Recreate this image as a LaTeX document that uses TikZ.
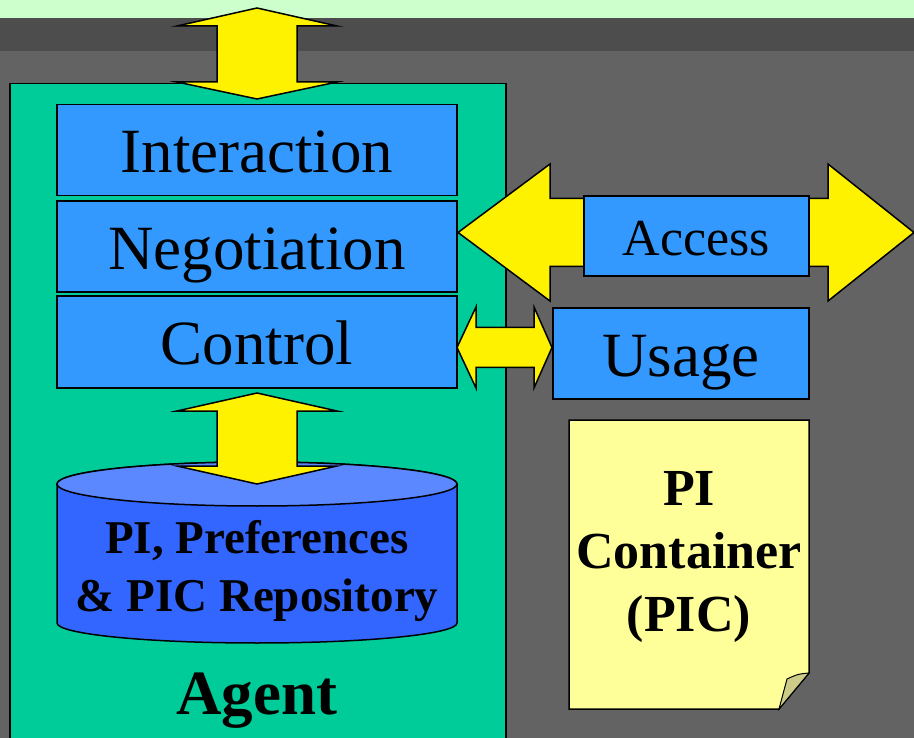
\documentclass[tikz,border=0pt]{standalone}
\usepackage{fontspec}
\setmainfont{Liberation Serif}
\definecolor{bgtop}{HTML}{CCFFCC}
\definecolor{bgband}{HTML}{4D4D4D}
\definecolor{bgmain}{HTML}{636363}
\definecolor{agentgreen}{HTML}{00CC99}
\definecolor{layerblue}{HTML}{3399FF}
\definecolor{cylbody}{HTML}{3366FF}
\definecolor{cyltop}{HTML}{5C88FF}
\definecolor{notefill}{HTML}{FFFF99}
\definecolor{notefold}{HTML}{CCCC88}
\newcommand\biarrowV[7]{% cx, tip, base, base, tip, head half, shaft half
  \draw[barrow] (#1,#2) -- (#1+#6,#3) -- (#1+#7,#3) -- (#1+#7,#4) -- (#1+#6,#4)
    -- (#1,#5) -- (#1-#6,#4) -- (#1-#7,#4) -- (#1-#7,#3) -- (#1-#6,#3) -- cycle;}
\newcommand\biarrowH[7]{% cy, tip, base, base, tip, head half, shaft half
  \draw[barrow] (#2,#1) -- (#3,#1-#6) -- (#3,#1-#7) -- (#4,#1-#7) -- (#4,#1-#6)
    -- (#5,#1) -- (#4,#1+#6) -- (#4,#1+#7) -- (#3,#1+#7) -- (#3,#1+#6) -- cycle;}
\tikzset{
  outline/.style={draw=black, line width=1.5pt},
  barrow/.style={outline, fill=yellow, line join=miter},
  layer/.style={outline, fill=layerblue, inner sep=0pt, text depth=0pt,
    font=\fontsize{63}{70}\selectfont},
  boldlabel/.style={align=center, inner sep=0pt, font=\bfseries}
}
\begin{document}
\begin{tikzpicture}[x=1pt, y=-1pt]
\useasboundingbox (0,0) rectangle (914,738);
\clip (0,0) rectangle (914,738);
% backdrop
\fill[bgmain] (0,0) rectangle (914,738);
\fill[bgband] (0,18) rectangle (914,51);
\fill[bgtop] (0,0) rectangle (914,18);

% agent container
\node[outline, fill=agentgreen, anchor=north west, minimum width=496pt,
  minimum height=700pt, inner sep=0pt] (agent) at (9,83) {};
\node[boldlabel, anchor=base, font=\bfseries\fontsize{63}{70}\selectfont]
  (agentlbl) at (257,714) {Agent};

% external link
\biarrowV{257}{8}{26}{82}{99}{80}{40}

% protocol layers
\node[layer, minimum width=400pt, minimum height=91pt, text height=46pt] (inter) at (257,150) {Interaction};
\node[layer, minimum width=400pt, minimum height=91pt, text height=46pt] (nego) at (257,246.5) {Negotiation};
\node[layer, minimum width=400pt, minimum height=92pt, text height=46pt] (ctrl) at (257,342) {Control};

% repository cylinder
\path[outline, fill=cylbody] (57,484) -- (57,623)
  arc[start angle=180, end angle=360, x radius=200pt, y radius=20pt]
  -- (457,484)
  arc[start angle=0, end angle=180, x radius=200pt, y radius=22pt] -- cycle;
\path[outline, fill=cyltop] (257,484) ellipse[x radius=200pt, y radius=22pt];
\node[boldlabel, font=\bfseries\fontsize{47}{58}\selectfont] (repo) at (257,571)
  {PI, Preferences\\\& PIC Repository};

% control <-> repository
\biarrowV{257}{393}{411}{466}{484}{80}{40}

% negotiation <-> access
\biarrowH{232.5}{458}{550}{828}{914}{68.5}{34}
\node[layer, minimum width=225pt, minimum height=80pt, text height=40pt,
  font=\fontsize{52}{60}\selectfont] (access) at (696.5,236) {Access};

% control <-> usage
\biarrowH{347.5}{457}{476}{534}{552}{40.5}{20}
\node[layer, minimum width=256pt, minimum height=91pt, text height=47pt] (usage) at (681,353.5) {Usage};

% PI container note with curled corner
\path[outline, fill=notefill] (569,420) -- (809,420) -- (809,673) -- (779,709) -- (569,709) -- cycle;
\path[draw=black, line width=1pt, fill=notefold] (809,673) .. controls (798,674) .. (787,679) -- (779,709) -- cycle;
\node[boldlabel, font=\bfseries\fontsize{52}{63}\selectfont] (pic) at (689,557)
  {PI\\Container\\(PIC)};
\end{tikzpicture}
\end{document}
